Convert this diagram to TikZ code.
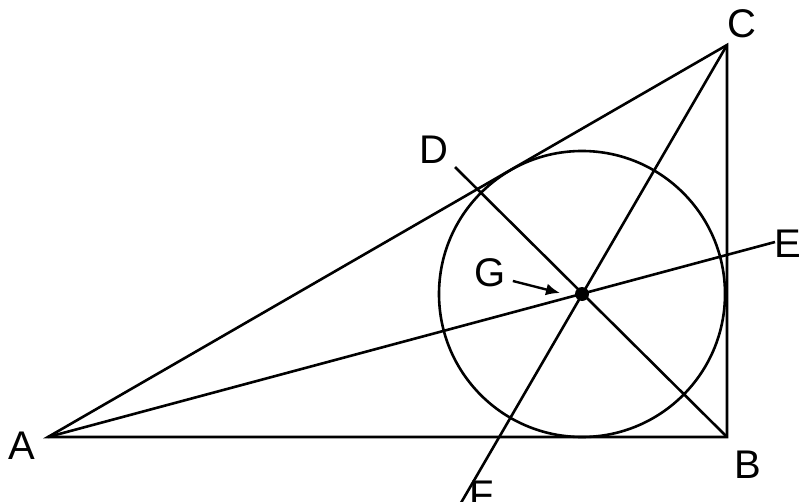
\documentclass[tikz,border=0pt]{standalone}
\usepackage{fontspec}
\usetikzlibrary{arrows.meta}
\setmainfont{Liberation Sans}
\begin{document}
\begin{tikzpicture}[x=1pt,y=-1pt,line width=2.6pt,
  lbl/.style={font=\fontsize{40}{40}\selectfont,inner sep=0pt}]
\useasboundingbox[fill=white] (0,0) rectangle (810,502);
\coordinate (A) at (48,437);
\coordinate (B) at (727,437);
\coordinate (C) at (727,45);
\coordinate (G) at (582,294);
\coordinate (D) at (455,167);
\coordinate (E) at (775,242);
\coordinate (F) at (458,508);
\draw (A) -- (B) -- (C) -- cycle;
\draw (G) circle (143);
\draw (D) -- (B);
\draw (C) -- (F);
\draw (A) -- (E);
\fill (G) circle (7);
\node[lbl] (lC) at (742,24) {C};
\node[lbl] (lD) at (434,150) {D};
\node[lbl] (lE) at (788,244) {E};
\node[lbl] (lG) at (490,273) {G};
\node[lbl] (lA) at (22,446) {A};
\node[lbl] (lB) at (748,465) {B};
\node[lbl] (lF) at (482,495) {F};
\draw[-{Latex[length=14pt,width=12pt]},line width=2.4pt] (lG.east)++(6,8) -- (560,293);
\end{tikzpicture}
\end{document}
